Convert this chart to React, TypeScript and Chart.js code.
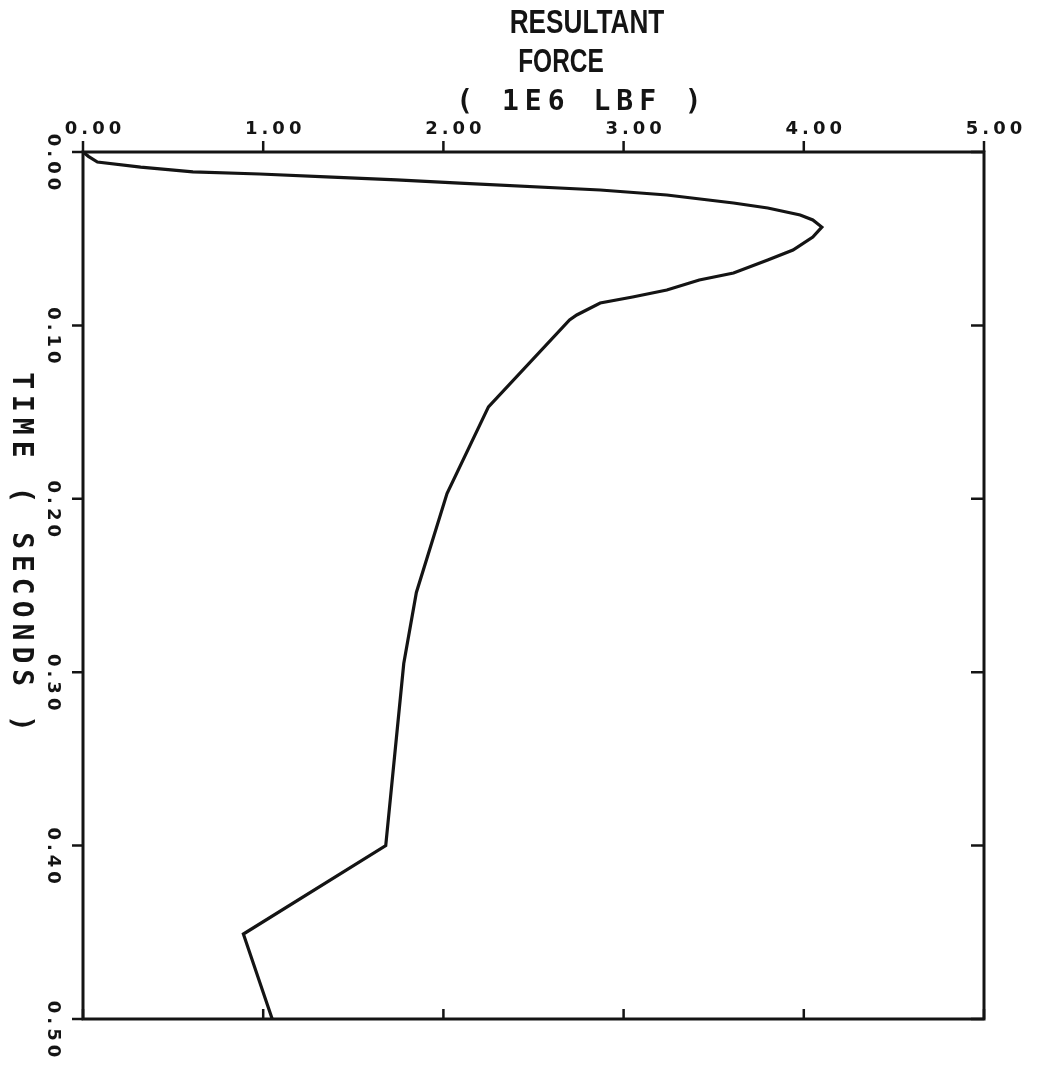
import React, { useEffect, useRef } from "react";
import { Chart, registerables } from "chart.js";

Chart.register(...registerables);

// ---- data ----
const timeSeconds = [
  0, 0.0025, 0.0058, 0.0087, 0.0115, 0.0127, 0.0144, 0.0161, 0.018, 0.0219, 0.0248, 0.0294, 0.0323,
  0.0363, 0.0392, 0.0433, 0.049, 0.0565, 0.0623, 0.0698, 0.0738, 0.0796, 0.0836, 0.0871, 0.094, 0.0969,
  0.147, 0.197, 0.254, 0.295, 0.4, 0.451, 0.5,
];
const forceMlbf = [
  0, 0.03, 0.08, 0.32, 0.61, 0.98, 1.35, 1.74, 2.09, 2.87, 3.24, 3.61, 3.8,
  3.98, 4.05, 4.1, 4.05, 3.94, 3.8, 3.61, 3.42, 3.24, 3.05, 2.87, 2.74, 2.7,
  2.25, 2.02, 1.85, 1.78, 1.68, 0.89, 1.05,
];

const forceTicks = [0, 1, 2, 3, 4, 5];
const forceTickLabels = ["0.00", "1.00", "2.00", "3.00", "4.00", "5.00"];
const timeTicks = [0, 0.1, 0.2, 0.3, 0.4, 0.5];
const timeTickLabels = ["0.00", "0.10", "0.20", "0.30", "0.40", "0.50"];

const titleLine1 = "RESULTANT";
const titleLine2 = "FORCE";
const unitLabel = "( 1E6 LBF )";
const yAxisTitle = "TIME ( SECONDS )";

const INK = "#141414";

const framePlugin = {
  id: "framePlugin",
  afterDraw(chart: any) {
    const ctx: CanvasRenderingContext2D = chart.ctx;
    const { left, right, top, bottom } = chart.chartArea;
    const xs = chart.scales.x;
    const ys = chart.scales.y;
    ctx.save();
    ctx.strokeStyle = INK;
    ctx.fillStyle = INK;
    ctx.lineWidth = 3;
    ctx.strokeRect(left, top, right - left, bottom - top);

    // ticks
    ctx.lineWidth = 2.5;
    ctx.beginPath();
    forceTicks.forEach((v) => {
      const px = xs.getPixelForValue(v);
      ctx.moveTo(px, top);
      ctx.lineTo(px, top - 11);
      ctx.moveTo(px, bottom);
      ctx.lineTo(px, bottom - 10);
    });
    timeTicks.forEach((v) => {
      const py = ys.getPixelForValue(v);
      ctx.moveTo(left, py);
      ctx.lineTo(left - 11, py);
      ctx.moveTo(right, py);
      ctx.lineTo(right - 13, py);
    });
    ctx.stroke();

    // x tick labels (top)
    (ctx as any).letterSpacing = "4px";
    ctx.font = 'bold 18px "DejaVu Sans", sans-serif';
    ctx.textAlign = "center";
    ctx.textBaseline = "alphabetic";
    forceTicks.forEach((v, i) => {
      const px = xs.getPixelForValue(v);
      ctx.fillText(forceTickLabels[i], px + 12, top - 18);
    });

    // y tick labels (left, rotated clockwise)
    timeTicks.forEach((v, i) => {
      const py = ys.getPixelForValue(v);
      ctx.save();
      ctx.translate(53, py + 12);
      ctx.rotate(Math.PI / 2);
      ctx.textBaseline = "middle";
      ctx.fillText(timeTickLabels[i], 0, 0);
      ctx.restore();
    });

    // title
    (ctx as any).letterSpacing = "0px";
    ctx.font = 'bold 34px "Liberation Sans", Arial, sans-serif';
    ctx.textBaseline = "alphabetic";
    ctx.save();
    ctx.translate(587, 33);
    ctx.scale(0.77, 1);
    ctx.fillText(titleLine1, 0, 0);
    ctx.restore();
    ctx.save();
    ctx.translate(561, 72);
    ctx.scale(0.72, 1);
    ctx.fillText(titleLine2, 0, 0);
    ctx.restore();

    // unit label and y title (plotter-font look)
    (ctx as any).letterSpacing = "6px";
    ctx.font = 'bold 28px "DejaVu Sans Mono", monospace';
    ctx.fillText(unitLabel, 582, 110);

    ctx.save();
    ctx.translate(20, 555);
    ctx.rotate(Math.PI / 2);
    ctx.textBaseline = "middle";
    ctx.fillText(yAxisTitle, 0, 0);
    ctx.restore();

    ctx.restore();
  },
};

export default function App() {
  const canvasRef = useRef<HTMLCanvasElement | null>(null);

  useEffect(() => {
    if (!canvasRef.current) return;
    const points = timeSeconds.map((t, i) => ({ x: forceMlbf[i], y: t }));
    const chart = new Chart(canvasRef.current, {
      type: "scatter",
      data: {
        datasets: [
          {
            data: points,
            showLine: true,
            borderColor: INK,
            borderWidth: 3.2,
            pointRadius: 0,
            tension: 0,
            fill: false,
          },
        ],
      },
      options: {
        animation: false,
        responsive: true,
        maintainAspectRatio: false,
        layout: { padding: { left: 83, top: 152, right: 64, bottom: 46 } },
        plugins: { legend: { display: false }, tooltip: { enabled: false } },
        scales: {
          x: { type: "linear", position: "top", min: 0, max: 5, display: false },
          y: { type: "linear", min: 0, max: 0.5, reverse: true, display: false },
        },
      },
      plugins: [framePlugin],
    });
    return () => chart.destroy();
  }, []);

  return (
    <div style={{ position: "absolute", left: 0, top: 0, width: 1048, height: 1065, background: "#fff" }}>
      <canvas ref={canvasRef} />
    </div>
  );
}
